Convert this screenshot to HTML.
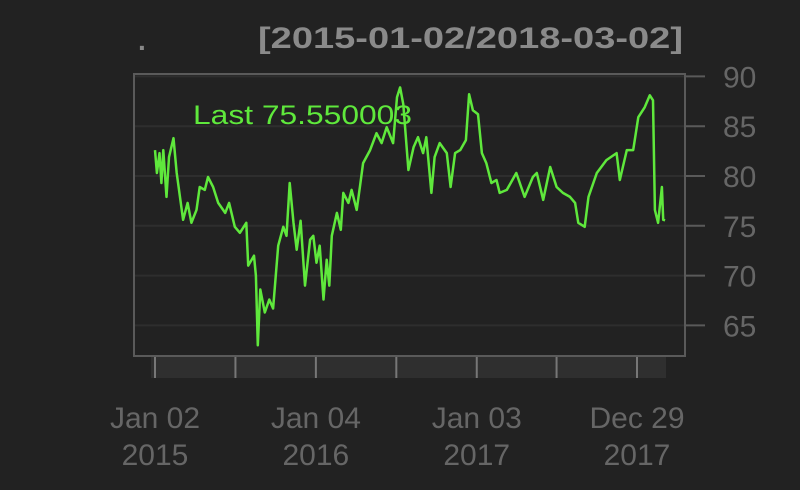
<!DOCTYPE html>
<html><head><meta charset="utf-8"><style>
html,body{margin:0;padding:0;background:#222;}
svg{display:block;font-family:"Liberation Sans",sans-serif;}
</style></head><body>
<svg id="chart" width="800" height="490" viewBox="0 0 800 490">
<rect x="0" y="0" width="800" height="490" fill="#222222"/>
<text x="138" y="50" fill="#888" font-size="28" font-weight="bold">.</text>
<text x="258" y="48" fill="#8a8a8a" font-size="30" font-weight="bold" textLength="425" lengthAdjust="spacingAndGlyphs">[2015-01-02/2018-03-02]</text>
<rect x="151" y="356" width="515" height="22" fill="#2f2f2f"/>
<g id="grid"></g>
<g id="xaxis"></g>
<g id="yaxis"></g>
<rect x="134" y="74" width="551" height="282" fill="none" stroke="#5a5a5a" stroke-width="2"/>
<g id="series"></g>
<text x="193" y="124" fill="#5fe83c" font-size="27" textLength="219" lengthAdjust="spacingAndGlyphs">Last 75.550003</text>
</svg>
<script>
const days=[0,3,7,10,13,18,22,29,34,44,51,57,65,70,78,83,91,99,110,116,125,133,143,146,155,158,161,165,172,179,185,193,201,206,211,217,222,228,235,243,248,253,258,264,269,273,277,285,291,295,303,308,316,321,326,337,347,355,363,373,379,384,389,397,405,412,420,425,433,438,446,457,463,470,478,487,492,498,506,512,519,527,535,540,551,566,579,592,598,608,619,629,639,650,658,663,673,679,692,707,723,728,739,749,757,767,775,780,783,788,794,796,799];
const values=[82.6,80.3,82.3,79.3,82.6,77.9,81.9,83.8,80.3,75.6,77.3,75.3,76.6,78.9,78.6,79.9,78.9,77.3,76.3,77.3,74.9,74.3,75.3,71.0,72.0,70.0,63.0,68.6,66.3,67.6,66.7,73.0,74.9,74.0,79.3,75.3,72.6,75.5,69.0,73.6,74.0,71.3,73.0,67.6,71.6,69.0,74.0,76.3,74.6,78.3,77.3,78.6,76.6,78.9,81.3,82.6,84.3,83.3,84.9,83.3,87.9,88.9,87.2,80.6,82.9,83.9,82.3,83.9,78.3,81.9,83.3,82.3,78.9,82.3,82.6,83.6,88.2,86.6,86.2,82.3,81.3,79.3,79.6,78.3,78.6,80.3,77.9,79.9,80.3,77.6,80.9,78.9,78.3,77.9,77.3,75.3,74.9,77.9,80.3,81.6,82.3,79.6,82.6,82.6,85.9,86.9,88.1,87.6,76.6,75.3,78.9,75.6,75.55];
const yTicks=[65,70,75,80,85,90];
const xTickDays=[0,126,252,378,504,629,755];
const xLabelDays=[0,252,504,755];
const xLabels1=["Jan 02","Jan 04","Jan 03","Dec 29"];
const xLabels2=["2015","2016","2017","2017"];
</script>
<script>
const NS="http://www.w3.org/2000/svg";
const n=Math.min(days.length,values.length);
function xs(d){return 155+d*(482/755);}
function ys(v){return 176-(v-80)*9.96;}
function mk(t,a){const e=document.createElementNS(NS,t);for(const k in a)e.setAttribute(k,a[k]);return e;}
const grid=document.getElementById('grid'),ya=document.getElementById('yaxis'),xa=document.getElementById('xaxis'),ser=document.getElementById('series');
yTicks.forEach(v=>{
  const y=ys(v);
  const g=mk('line',{x1:135,x2:684,y1:y,y2:y,stroke:'#2e2e2e','stroke-width':2});
  
  
  grid.appendChild(g);
  const t=mk('line',{x1:685,x2:705,y1:y,y2:y,stroke:'#5a5a5a','stroke-width':2});
  
  
  ya.appendChild(t);
  const l=mk('text',{x:723,y:y+11,fill:'#666','font-size':30});
  
  
  l.textContent=v;ya.appendChild(l);
});
xTickDays.forEach((d,i)=>{
  const x=xs(d);
  const t=mk('line',{x1:x,x2:x,y1:356,y2:378,stroke:'#777','stroke-width':2});
  
  
  xa.appendChild(t);
});
xLabelDays.forEach((d,i)=>{
  const x=xs(d);
  const a=mk('text',{x:x,y:428,fill:'#666','font-size':30,'text-anchor':'middle'});
  
  
  a.textContent=xLabels1[i];xa.appendChild(a);
  const b=mk('text',{x:x,y:465,fill:'#666','font-size':30,'text-anchor':'middle'});
  
  
  b.textContent=xLabels2[i];xa.appendChild(b);
});
let dstr='';
for(let i=0;i<n;i++){dstr+=(i?'L':'M')+xs(days[i]).toFixed(1)+','+ys(values[i]).toFixed(1);}
const p=mk('path',{d:dstr,fill:'none',stroke:'#5fe83c','stroke-width':2.5,'stroke-linejoin':'round'});


ser.appendChild(p);
</script>
</body></html>
